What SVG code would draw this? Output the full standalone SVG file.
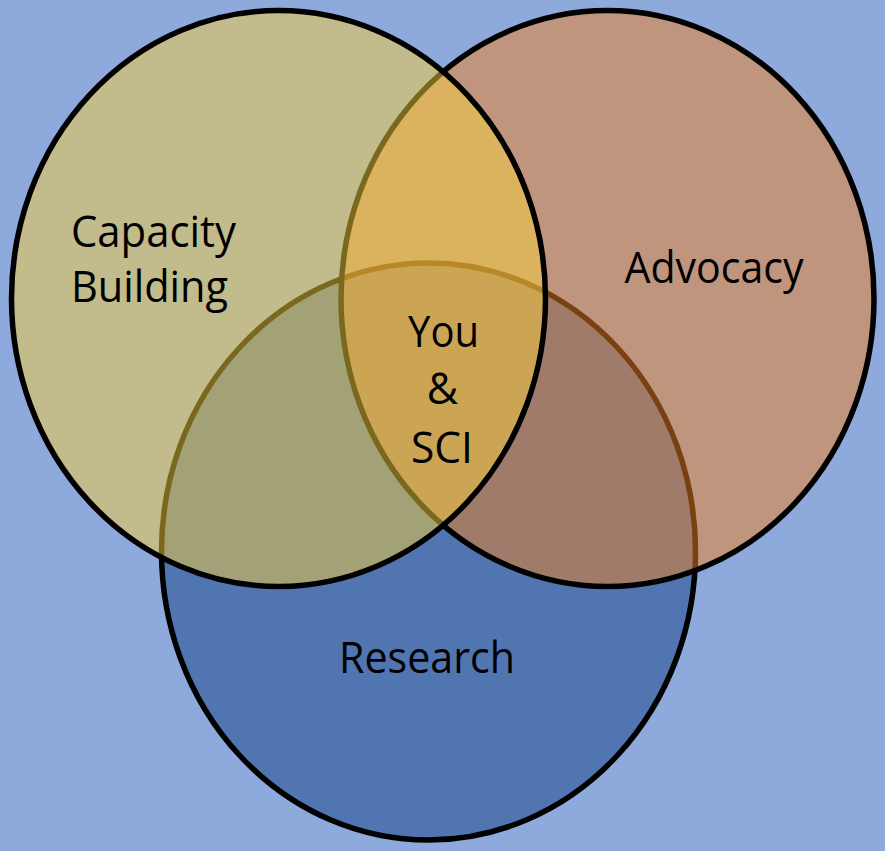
<svg xmlns="http://www.w3.org/2000/svg" width="885" height="851" viewBox="0 0 885 851">
  <style>
    .ring { stroke: #000; stroke-width: 5.5; }
    .label { font-family: "Open Sans", "Noto Sans", "DejaVu Sans", sans-serif; font-size: 43px; fill: #000; }
    .mid { text-anchor: middle; }
  </style>

  <!-- backdrop -->
  <rect x="0" y="0" width="885" height="851" fill="#8EA9DB"/>

  <!-- bottom set, drawn first so the upper sets tint it -->
  <g id="research">
    <ellipse class="ring" cx="428.5" cy="551.5" rx="267" ry="288.5" fill="#5175B0"/>
    <text class="label mid" x="427" y="673" textLength="176" lengthAdjust="spacingAndGlyphs">Research</text>
  </g>

  <g id="advocacy">
    <ellipse class="ring" cx="607.5" cy="298.5" rx="266.5" ry="288" fill="#F28121" fill-opacity="0.5"/>
    <text class="label mid" x="714" y="283" textLength="179" lengthAdjust="spacingAndGlyphs">Advocacy</text>
  </g>

  <g id="capacity-building">
    <ellipse class="ring" cx="278.5" cy="298.5" rx="267" ry="288" fill="#F6CF3D" fill-opacity="0.5"/>
    <text class="label" x="71" y="246.5" textLength="165" lengthAdjust="spacingAndGlyphs">Capacity</text>
    <text class="label" x="71" y="302" textLength="157" lengthAdjust="spacingAndGlyphs">Building</text>
  </g>

  <!-- shared core -->
  <g id="you-and-sci">
    <text class="label mid" x="443.5" y="346.5" textLength="71" lengthAdjust="spacingAndGlyphs">You</text>
    <text class="label mid" x="442.5" y="403.5">&amp;</text>
    <text class="label mid" x="442" y="462.5" textLength="62" lengthAdjust="spacingAndGlyphs">SCI</text>
  </g>
</svg>
